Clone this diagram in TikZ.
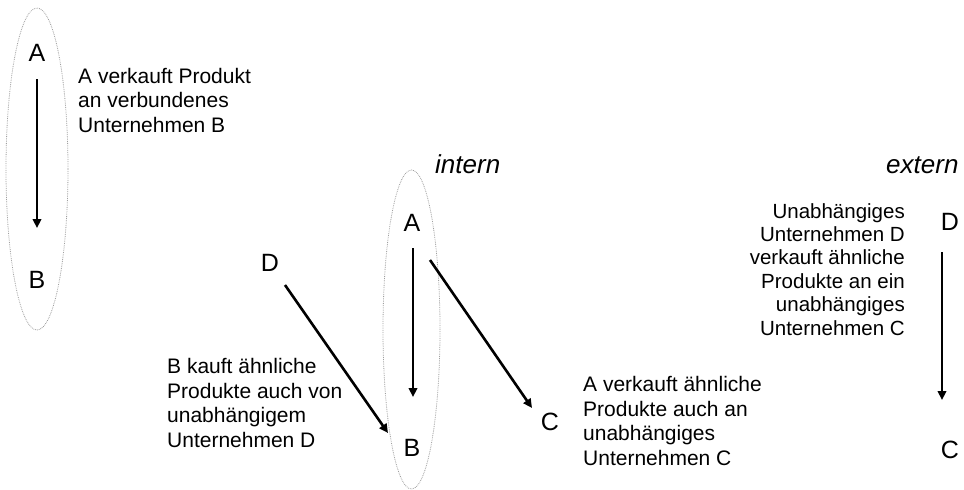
\documentclass[tikz,border=0pt]{standalone}
\usepackage{fontspec}
\setmainfont{Liberation Sans}
\usetikzlibrary{shapes.geometric,arrows.meta,calc}

\tikzset{
  firm/.style={font=\fontsize{25}{29}\selectfont, inner sep=0pt},
  note/.style={font=\fontsize{21}{24.5}\selectfont, align=left, inner sep=0pt, anchor=base west},
  side/.style={font=\fontsize{26}{30}\selectfont\itshape, inner sep=0pt, anchor=base west},
  group/.style={ellipse, draw=gray!75, densely dotted, line width=0.8pt, inner sep=0pt},
  flow/.style={-{Triangle[length=9pt,width=8.5pt]}, line width=2.6pt},
}

\begin{document}
\begin{tikzpicture}[x=1pt,y=-1pt]
  \useasboundingbox (0,0) rectangle (964,490);
  \clip (0,0) rectangle (964,490);
  \node[group,minimum width=62pt,minimum height=322pt] (grpL) at (37,169) {};
  \node[firm] (A1) at (37,53) {A};
  \node[firm] (B1) at (37,280) {B};
  \draw[flow] ([shift={(0,26)}]A1.center) -- ([shift={(0,-52)}]B1.center);
  \node[note] (txtAB) at (78,132) {A verkauft Produkt\\an verbundenes\\Unternehmen B};

  \node[side] (intern) at (435,173) {intern};
  \node[group,minimum width=57pt,minimum height=319pt] (grpM) at (411.5,329.5) {};
  \node[firm] (A2) at (412,223) {A};
  \node[firm] (B2) at (412,448) {B};
  \node[firm] (D2) at (270,263) {D};
  \node[firm] (C2) at (550,422) {C};
  \draw[flow] ([shift={(1,25)}]A2.center) -- ([shift={(1,-51)}]B2.center);
  \draw[flow] ([shift={(15,22)}]D2.center) -- ([shift={(-24,-15)}]B2.center);
  \draw[flow] ([shift={(18,37)}]A2.center) -- ([shift={(-18,-14)}]C2.center);
  \node[note] (txtDB) at (167,447) {B kauft ähnliche\\Produkte auch von\\unabhängigem\\Unternehmen D};
  \node[note] (txtAC) at (583,465) {A verkauft ähnliche\\Produkte auch an\\unabhängiges\\Unternehmen C};

  \node[side] (extern) at (886,173) {extern};
  \node[firm] (D3) at (950,222) {D};
  \node[firm] (C3) at (950,450) {C};
  \draw[flow] ([shift={(-8,30)}]D3.center) -- ([shift={(-8,-50)}]C3.center);
  \node[note,font=\fontsize{20.5}{23.4}\selectfont,align=right,anchor=base east] (txtDC) at (905,335) {Unabhängiges\\Unternehmen D\\verkauft ähnliche\\Produkte an ein\\unabhängiges\\Unternehmen C};
\end{tikzpicture}
\end{document}
